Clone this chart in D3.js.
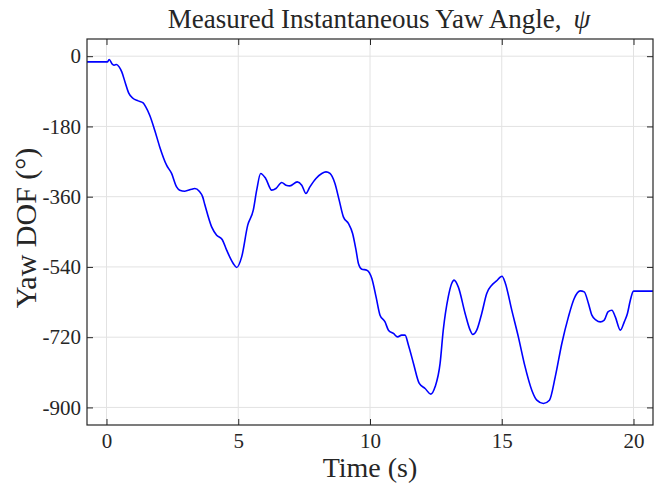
<!DOCTYPE html>
<html>
<head>
<meta charset="utf-8">
<script src="https://cdn.jsdelivr.net/npm/d3@7"></script>
<style>
  body { margin: 0; background: #fff; }
  text { font-family: "Liberation Serif", "DejaVu Serif", serif; fill: #262626; }
</style>
</head>
<body>
<div id="chart"></div>
<script>
// time (s) and measured yaw angle (deg)
var time = [-0.74, 0.04, 0.10, 0.23, 0.29, 0.38, 0.48, 0.58, 0.72, 0.85, 1.01, 1.20, 1.39, 1.49, 1.64, 1.83,
  2.02, 2.28, 2.47, 2.66, 2.78, 2.97, 3.23, 3.35, 3.52, 3.65, 3.73, 3.99, 4.18, 4.39, 4.56, 4.81, 4.94,
  5.13, 5.36, 5.57, 5.70, 5.85, 6.04, 6.27, 6.43, 6.65, 6.81, 6.96, 7.24, 7.41, 7.57, 7.72, 7.95, 8.17,
  8.33, 8.48, 8.67, 8.83, 8.99, 9.18, 9.34, 9.47, 9.56, 9.69, 9.88, 10.07, 10.23, 10.38, 10.57, 10.70,
  10.89, 11.05, 11.20, 11.33, 11.46, 11.65, 11.87, 12.09, 12.31, 12.47, 12.66, 12.78, 12.97, 13.10,
  13.19, 13.35, 13.61, 13.80, 13.90, 14.05, 14.24, 14.43, 14.62, 14.79, 15.01, 15.13, 15.38, 15.63,
  15.87, 16.14, 16.33, 16.58, 16.81, 17.03, 17.28, 17.53, 17.75, 17.98, 18.13, 18.29, 18.42, 18.58,
  18.74, 18.89, 19.03, 19.18, 19.31, 19.50, 19.65, 19.77, 19.88, 20.00, 20.74];
var yaw = [-14.6, -14.6, -8.5, -21.3, -23.1, -21.3, -27.4, -40.2, -69.9, -95.5, -108.4, -114.5, -119.7,
  -129.9, -151.2, -189.6, -232.4, -279.3, -300.5, -334.9, -343.3, -345.9, -340.8, -339.0, -345.9,
  -360.5, -380.0, -437.4, -458.6, -469.6, -497.1, -531.1, -541.4, -514.2, -433.0, -394.6, -343.3,
  -300.5, -313.3, -343.3, -339.0, -323.6, -330.5, -332.3, -322.1, -330.5, -351.8, -334.9, -313.3,
  -300.5, -296.4, -300.5, -326.2, -368.9, -411.7, -428.6, -454.3, -497.1, -531.1, -545.7, -548.3,
  -569.6, -616.7, -663.6, -680.8, -702.0, -710.5, -719.2, -714.8, -714.8, -740.5, -787.3, -838.6,
  -851.4, -866.0, -847.3, -787.3, -702.0, -616.7, -582.4, -573.9, -591.1, -659.2, -702.0, -713.0,
  -702.0, -659.2, -608.0, -586.7, -576.5, -563.7, -580.3, -650.8, -719.2, -791.7, -855.8, -881.4,
  -889.8, -881.4, -821.7, -736.1, -667.9, -620.8, -601.3, -603.9, -633.6, -663.6, -676.4, -680.8,
  -676.4, -655.1, -650.8, -667.9, -702.0, -680.8, -659.2, -625.2, -602.1, -602.1];
var xTicks = [0, 5, 10, 15, 20];
var yTicks = [0, -180, -360, -540, -720, -900];
var yRange = [-945, 44];

var width = 661, height = 485;
var margin = {top: 39, right: 8, bottom: 60, left: 87};

var svg = d3.select("#chart").append("svg")
  .attr("width", width)
  .attr("height", height);

var x = d3.scaleLinear()
  .domain(d3.extent(time))
  .range([margin.left, width - margin.right]);
var y = d3.scaleLinear()
  .domain(yRange)
  .range([height - margin.bottom, margin.top]);

// grid
var grid = svg.append("g").attr("class", "grid");
grid.selectAll("line.gx").data(xTicks).enter().append("line")
  .attr("x1", d => x(d)).attr("x2", d => x(d))
  .attr("y1", y.range()[1]).attr("y2", y.range()[0])
  .attr("stroke", "#e2e2e2").attr("stroke-width", 1);
grid.selectAll("line.gy").data(yTicks).enter().append("line")
  .attr("y1", d => y(d)).attr("y2", d => y(d))
  .attr("x1", x.range()[0]).attr("x2", x.range()[1])
  .attr("stroke", "#e2e2e2").attr("stroke-width", 1);

// line
var line = d3.line()
  .x((d, i) => x(time[i]))
  .y(d => y(d))
  .curve(d3.curveMonotoneX);
svg.append("path")
  .datum(yaw)
  .attr("d", line)
  .attr("fill", "none")
  .attr("stroke", "#0000ff")
  .attr("stroke-width", 1.6);

// axes (ticks pointing inward, on all four sides)
var tickLen = 6;
var fmt = d => String(d);
svg.append("g")
  .attr("transform", `translate(0,${y.range()[0]})`)
  .call(d3.axisBottom(x).tickValues(xTicks).tickFormat(fmt).tickSizeInner(-tickLen).tickSizeOuter(0).tickPadding(8))
  .call(g => g.select(".domain").remove())
  .call(g => g.selectAll("text").attr("font-size", 21));
svg.append("g")
  .attr("transform", `translate(0,${y.range()[1]})`)
  .call(d3.axisTop(x).tickValues(xTicks).tickSizeInner(-tickLen).tickSizeOuter(0).tickFormat(""))
  .call(g => g.select(".domain").remove());
svg.append("g")
  .attr("transform", `translate(${x.range()[0]},0)`)
  .call(d3.axisLeft(y).tickValues(yTicks).tickFormat(fmt).tickSizeInner(-tickLen).tickSizeOuter(0).tickPadding(6))
  .call(g => g.select(".domain").remove())
  .call(g => g.selectAll("text").attr("font-size", 21));
svg.append("g")
  .attr("transform", `translate(${x.range()[1]},0)`)
  .call(d3.axisRight(y).tickValues(yTicks).tickSizeInner(-tickLen).tickSizeOuter(0).tickFormat(""))
  .call(g => g.select(".domain").remove());
svg.selectAll(".tick line").attr("stroke", "#262626");
svg.selectAll(".tick text").attr("fill", "#262626").style("font-family", '"Liberation Serif", serif');

svg.append("rect")
  .attr("x", x.range()[0]).attr("y", y.range()[1])
  .attr("width", x.range()[1] - x.range()[0])
  .attr("height", y.range()[0] - y.range()[1])
  .attr("fill", "none").attr("stroke", "#262626").attr("stroke-width", 1.2);

// labels
var title = svg.append("text")
  .attr("x", 379).attr("y", 28)
  .attr("text-anchor", "middle")
  .attr("font-size", 27);
title.append("tspan").text("Measured Instantaneous Yaw Angle,");
title.append("tspan").attr("dx", 12).attr("font-style", "italic").text("ψ");

svg.append("text")
  .attr("x", 370).attr("y", 477)
  .attr("text-anchor", "middle")
  .attr("font-size", 28)
  .text("Time (s)");

svg.append("text")
  .attr("transform", "translate(36,228) rotate(-90)")
  .attr("text-anchor", "middle")
  .attr("font-size", 30)
  .text("Yaw DOF (°)");
</script>
</body>
</html>
